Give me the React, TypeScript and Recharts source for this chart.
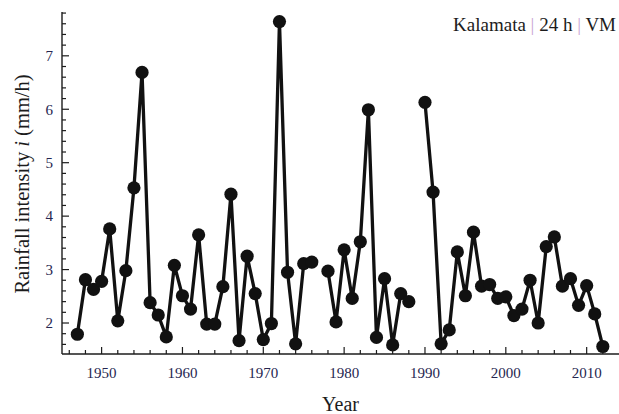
import { LineChart, Line, XAxis, YAxis } from 'recharts';

const years = [
  1947, 1948, 1949, 1950, 1951, 1952, 1953, 1954, 1955, 1956, 1957, 1958, 1959,
  1960, 1961, 1962, 1963, 1964, 1965, 1966, 1967, 1968, 1969, 1970, 1971, 1972,
  1973, 1974, 1975, 1976, 1977, 1978, 1979, 1980, 1981, 1982, 1983, 1984, 1985,
  1986, 1987, 1988, 1989, 1990, 1991, 1992, 1993, 1994, 1995, 1996, 1997, 1998,
  1999, 2000, 2001, 2002, 2003, 2004, 2005, 2006, 2007, 2008, 2009, 2010, 2011,
  2012,
];

// mm/h, null = no record that year
const intensity: (number | null)[] = [
  1.79, 2.81, 2.63, 2.78, 3.76, 2.04, 2.98, 4.53, 6.69, 2.38, 2.15, 1.74, 3.08,
  2.51, 2.26, 3.65, 1.98, 1.98, 2.68, 4.41, 1.67, 3.25, 2.55, 1.69, 1.99, 7.64,
  2.95, 1.61, 3.11, 3.14, null, 2.97, 2.02, 3.37, 2.46, 3.52, 5.99, 1.73, 2.83,
  1.59, 2.55, 2.4, null, 6.13, 4.45, 1.61, 1.87, 3.33, 2.51, 3.7, 2.69, 2.72,
  2.46, 2.49, 2.14, 2.26, 2.8, 2.0, 3.43, 3.61, 2.69, 2.83, 2.33, 2.7, 2.17,
  1.56,
];

const xMajorTicks = [1950, 1960, 1970, 1980, 1990, 2000, 2010];
const xMinorTicks = [
  1946, 1948, 1952, 1954, 1956, 1958, 1962, 1964, 1966, 1968, 1972, 1974, 1976,
  1978, 1982, 1984, 1986, 1988, 1992, 1994, 1996, 1998, 2002, 2004, 2006, 2008,
  2012,
];
const yMajorTicks = [2, 3, 4, 5, 6, 7];
const yMinorTicks = [
  1.6, 1.8, 2.2, 2.4, 2.6, 2.8, 3.2, 3.4, 3.6, 3.8, 4.2, 4.4, 4.6, 4.8, 5.2, 5.4,
  5.6, 5.8, 6.2, 6.4, 6.6, 6.8, 7.2, 7.4, 7.6, 7.8,
];

const data = years.map((year, i) => ({ year, value: intensity[i] }));

const FONT = '"Liberation Serif", "Times New Roman", serif';
const INK = '#1c1c1c';
const X_GAP = 13;
const Y_GAP = 9;

const XTick = ({ x, y, payload }: any) => {
  const major = xMajorTicks.includes(payload.value);
  const axisY = y - X_GAP;
  return (
    <g>
      <line x1={x} x2={x} y1={axisY} y2={axisY - (major ? 7 : 4)} stroke={INK} strokeWidth={1.2} />
      {major && (
        <text x={x} y={y} dy="0.71em" textAnchor="middle" fontFamily={FONT} fontSize={15} fill="#262650">
          {payload.value}
        </text>
      )}
    </g>
  );
};

const YTick = ({ x, y, payload }: any) => {
  const major = yMajorTicks.includes(payload.value);
  const axisX = x + Y_GAP;
  return (
    <g>
      <line x1={axisX} x2={axisX + (major ? 7 : 4)} y1={y} y2={y} stroke={INK} strokeWidth={1.2} />
      {major && (
        <text x={x} y={y} dy="0.35em" textAnchor="end" fontFamily={FONT} fontSize={15} fill="#262650">
          {payload.value}
        </text>
      )}
    </g>
  );
};

const YLabel = () => (
  <text
    x={0}
    y={0}
    transform="translate(29, 184) rotate(-90)"
    textAnchor="middle"
    fontFamily={FONT}
    fontSize={20.5}
    fill={INK}
  >
    Rainfall intensity <tspan fontStyle="italic">i</tspan> (mm/h)
  </text>
);

export default function App() {
  return (
    <div style={{ position: 'absolute', left: 0, top: 0, width: 619, height: 414, background: '#fff' }}>
      <LineChart width={619} height={414} data={data} margin={{ top: 12, right: 0, bottom: 0, left: 0 }}>
        <XAxis
          dataKey="year"
          type="number"
          domain={[1945.1, 2014]}
          allowDataOverflow
          ticks={[...xMinorTicks, ...xMajorTicks].sort((a, b) => a - b)}
          interval={0}
          height={60}
          tickSize={0}
          tickMargin={X_GAP}
          tick={<XTick />}
          axisLine={{ stroke: INK, strokeWidth: 1.4 }}
          label={{ value: 'Year', position: 'insideBottom', offset: 3, fontFamily: FONT, fontSize: 20, fill: INK }}
        />
        <YAxis
          type="number"
          domain={[1.42, 7.82]}
          allowDataOverflow
          ticks={[...yMinorTicks, ...yMajorTicks].sort((a, b) => a - b)}
          interval={0}
          width={62}
          tickSize={0}
          tickMargin={Y_GAP}
          tick={<YTick />}
          axisLine={{ stroke: INK, strokeWidth: 1.4 }}
          label={{ content: () => <YLabel /> }}
        />
        <Line
          dataKey="value"
          type="linear"
          stroke="#111"
          strokeWidth={3.3}
          dot={{ r: 6.6, fill: '#111', stroke: 'none' }}
          activeDot={false}
          connectNulls={false}
          isAnimationActive={false}
        />
        <text x={616} y={31} textAnchor="end" fontFamily={FONT} fontSize={19} fill={INK}>
          Kalamata <tspan fill="#c9a3d3">|</tspan> 24 h <tspan fill="#c9a3d3">|</tspan> VM
        </text>
      </LineChart>
    </div>
  );
}
